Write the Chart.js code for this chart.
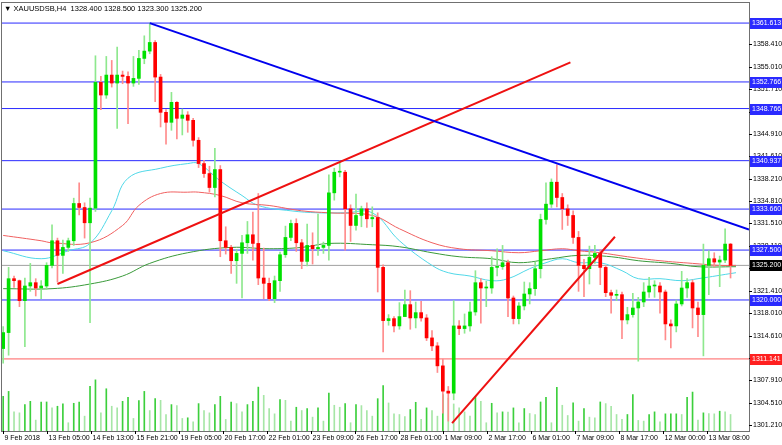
<!DOCTYPE html>
<html>
<head>
<meta charset="utf-8">
<script src="https://cdn.jsdelivr.net/npm/chart.js@4/dist/chart.umd.min.js"></script>
<style>
  html, body { margin: 0; padding: 0; background: #fff; }
  #wrap { width: 782px; height: 445px; position: relative; }
</style>
</head>
<body>
<div id="wrap"><canvas id="c" width="782" height="445"></canvas></div>
<script>
// candles (H4), open of the first bar, then closes / highs / lows
var firstOpen = 1312.7;
var closes = [1315.1,1323.2,1322.9,1319.9,1322.1,1322.6,1321.8,1322.1,1325.2,1328.9,
  1326.7,1327.9,1328.9,1334.5,1333.9,1331.6,1333.8,1352.7,1350.8,1353.8,
  1352.6,1353.8,1353.6,1352.6,1353.3,1356.3,1357.4,1358.7,1353.5,1348.2,
  1346.7,1349.7,1347.3,1347.8,1347.0,1344.0,1340.5,1339.0,1336.9,1339.6,
  1328.9,1327.9,1325.9,1327.0,1328.6,1329.8,1328.5,1323.3,1322.5,1320.2,
  1322.9,1326.8,1329.4,1331.5,1328.6,1325.8,1328.2,1327.7,1327.9,1328.2,
  1336.1,1339.2,1339.2,1333.7,1331.2,1332.7,1333.7,1332.2,1332.4,1324.9,
  1316.9,1317.2,1316.1,1317.5,1319.3,1317.3,1318.1,1317.3,1314.3,1313.1,
  1310.1,1306.3,1306.0,1316.1,1315.7,1316.1,1318.2,1322.6,1321.8,1321.8,
  1324.9,1325.0,1325.6,1320.3,1317.2,1319.1,1320.9,1321.7,1324.7,1332.1,
  1334.4,1337.7,1335.4,1333.7,1332.7,1329.4,1325.2,1324.7,1326.4,1327.0,
  1324.9,1321.1,1320.7,1320.8,1317.0,1317.8,1318.8,1319.7,1321.2,1322.1,
  1322.1,1321.2,1316.4,1316.1,1319.4,1321.8,1322.6,1318.8,1317.8,1325.2,
  1326.2,1325.7,1326.0,1328.4,1325.2];
var highs = [1316.0,1324.9,1323.6,1323.0,1323.3,1325.5,1323.2,1322.9,1325.6,1331.3,
  1329.3,1329.0,1329.3,1335.3,1337.6,1334.6,1335.3,1356.7,1353.6,1356.6,
  1356.0,1358.0,1354.4,1354.3,1356.6,1357.5,1359.7,1361.6,1359.0,1353.9,
  1348.6,1351.2,1349.8,1348.7,1348.3,1347.3,1344.4,1341.0,1340.1,1342.8,
  1340.2,1331.0,1328.2,1327.6,1329.7,1331.8,1333.2,1336.0,1327.8,1323.3,
  1323.6,1327.2,1331.1,1332.0,1332.2,1329.1,1331.4,1330.1,1332.9,1328.7,
  1338.8,1339.8,1340.9,1339.5,1334.3,1335.9,1334.1,1334.6,1334.0,1333.1,
  1325.3,1317.8,1317.5,1319.6,1321.5,1321.4,1319.7,1319.8,1317.8,1315.4,
  1313.6,1311.1,1307.0,1319.9,1316.9,1317.9,1319.7,1324.4,1323.2,1322.8,
  1326.5,1327.7,1328.2,1326.0,1320.6,1319.6,1322.7,1322.6,1325.7,1332.9,
  1337.6,1338.2,1340.3,1336.0,1334.3,1333.4,1330.3,1326.1,1328.1,1328.2,
  1327.6,1325.2,1321.5,1321.5,1321.2,1318.9,1321.0,1320.4,1322.6,1323.4,
  1322.9,1322.6,1321.5,1317.0,1320.0,1324.3,1323.2,1323.0,1319.7,1328.4,
  1327.4,1327.1,1326.6,1330.7,1328.5];
var lows = [1310.5,1311.7,1321.9,1319.0,1313.0,1321.3,1320.6,1320.2,1321.6,1324.8,
  1322.7,1324.0,1327.3,1328.2,1332.8,1329.3,1316.6,1333.3,1348.6,1350.3,
  1352.0,1345.8,1352.5,1346.5,1352.1,1352.4,1355.5,1357.0,1349.8,1346.0,
  1343.4,1345.5,1344.2,1344.8,1345.2,1343.1,1339.9,1338.4,1336.2,1335.5,
  1326.5,1326.9,1324.0,1322.5,1320.3,1327.0,1326.0,1322.3,1320.2,1319.9,
  1319.6,1321.3,1326.4,1328.9,1327.3,1324.7,1325.1,1325.4,1326.7,1327.0,
  1326.0,1335.0,1338.5,1327.5,1328.8,1330.5,1331.0,1330.9,1331.0,1321.2,
  1312.2,1316.2,1315.2,1315.6,1318.3,1315.6,1315.8,1316.8,1313.9,1312.4,
  1309.1,1303.0,1301.8,1305.0,1314.8,1315.0,1315.3,1317.7,1316.5,1319.0,
  1321.0,1323.6,1324.6,1317.5,1316.4,1316.4,1318.5,1319.4,1320.7,1323.3,
  1331.4,1333.9,1334.0,1330.6,1331.2,1328.5,1321.3,1320.5,1322.4,1325.5,
  1322.3,1320.5,1318.0,1319.9,1314.2,1316.4,1317.4,1310.8,1319.0,1320.4,
  1320.4,1318.0,1314.0,1312.8,1315.2,1319.1,1320.4,1315.8,1314.5,1311.6,
  1320.8,1325.0,1322.0,1325.6,1323.3];
var volumes = [105,120,58,55,80,90,33,88,88,70,75,82,25,84,88,45,135,155,55,128,
  75,70,90,102,38,92,120,62,98,93,50,80,77,38,40,28,83,62,55,80,
  105,35,88,83,58,80,90,133,108,68,52,95,93,30,72,62,68,42,70,30,
  115,78,72,83,25,80,77,62,45,98,138,85,52,50,44,65,87,35,70,62,
  45,110,100,82,70,58,45,105,90,25,84,55,58,57,70,25,68,53,50,88,
  102,25,132,78,47,85,30,68,42,40,88,83,75,50,35,50,110,32,30,50,
  58,28,52,52,52,50,102,118,33,55,53,52,60,58,50];

// moving averages (bar index, price)
var maFast = [[0,1327.4],[7,1326.2],[12,1327.4],[16,1328.5],[20,1333.4],[23,1338.3],[29,1339.8],
  [34,1340.5],[36,1340.5],[40,1337.9],[44,1335.7],[47,1334.2],[53,1333.4],[58,1333.1],[63,1333.1],
  [68,1333.1],[73,1328.9],[79,1325.2],[82,1324.1],[86,1323.6],[90,1322.9],[93,1323.2],[97,1324.7],
  [100,1325.6],[103,1326.2],[106,1325.6],[110,1325.6],[114,1324.4],[117,1323.2],[121,1323.2],
  [125,1322.9],[128,1323.2],[135,1324.1]];
var maMid = [[0,1329.7],[7,1328.9],[9,1328.6],[16,1328.6],[22,1331.2],[25,1334.2],[29,1336.0],
  [34,1336.2],[36,1336.2],[40,1335.7],[44,1334.6],[49,1334.2],[55,1333.4],[60,1333.1],[68,1332.7],
  [73,1330.7],[79,1328.6],[84,1327.7],[90,1327.4],[95,1327.1],[99,1327.4],[103,1327.7],[106,1327.4],
  [110,1327.1],[115,1326.5],[121,1325.9],[127,1325.5],[132,1325.2],[135,1325.2]];
var maSlow = [[0,1321.7],[9,1321.7],[16,1322.4],[22,1323.6],[27,1325.5],[34,1327.1],[42,1327.9],
  [49,1327.7],[55,1327.9],[60,1328.5],[68,1328.3],[73,1328.0],[79,1327.1],[84,1326.5],[90,1326.2],
  [95,1325.6],[101,1326.2],[106,1326.7],[112,1326.5],[117,1325.9],[123,1325.5],[128,1325.0],[135,1325.0]];

// trend lines
var trendDown = [[27,1361.6],[137.4,1330.6]];
var trendUpA = [[10,1322.4],[104.5,1355.7]];
var trendUpB = [[82.7,1301.5],[112.7,1329.5]];

// horizontal levels
var blueLevels = [1361.613,1352.766,1348.766,1340.937,1333.660,1327.500,1320.000];
var redLevel = 1311.141;
var lastPrice = 1325.200;

var yTicks = [1301.210,1304.510,1307.910,1311.310,1314.610,1318.010,1321.410,1324.810,1328.110,
  1331.510,1334.810,1338.210,1341.610,1344.910,1348.310,1351.710,1355.010,1358.410];
var xTickIdx = [0,8.1,16.2,24.3,32.4,40.5,48.6,56.7,64.8,72.9,81,89.1,97.2,105.3,113.4,121.5,129.6];
var xTickLabels = ['9 Feb 2018','13 Feb 05:00','14 Feb 13:00','15 Feb 21:00','19 Feb 05:00',
  '20 Feb 17:00','22 Feb 01:00','23 Feb 09:00','26 Feb 17:00','28 Feb 01:00','1 Mar 09:00',
  '2 Mar 17:00','6 Mar 01:00','7 Mar 09:00','8 Mar 17:00','12 Mar 00:00','13 Mar 08:00'];

var FONT = '"Liberation Sans", Arial, sans-serif';

var bodies = [], wicks = [], bodyCol = [], wickCol = [], vols = [], volCol = [];
for (var i = 0; i < closes.length; i++) {
  var o = i === 0 ? firstOpen : closes[i - 1];
  var up = closes[i] >= o;
  bodies.push({ x: i, y: [o, closes[i]] });
  wicks.push({ x: i, y: [lows[i], highs[i]] });
  bodyCol.push(up ? '#00e000' : '#ff0000');
  wickCol.push(up ? '#8ee88e' : '#ff8c8c');
}
for (var j = 0; j < volumes.length; j++) {
  vols.push({ x: j, y: volumes[j] });
  volCol.push(j > 0 && volumes[j] < volumes[j - 1] ? '#a6e6a6' : '#3ccf3c');
}

function pts(arr) { return arr.map(function (p) { return { x: p[0], y: p[1] }; }); }
function hline(v) { return [{ x: -1, y: v }, { x: 140, y: v }]; }

var datasets = [];
datasets.push({ type: 'bar', data: vols, yAxisID: 'yv', backgroundColor: volCol, barThickness: 1, order: 9 });
blueLevels.forEach(function (v) {
  datasets.push({ type: 'line', data: hline(v), borderColor: '#2a2aff', borderWidth: 1, pointRadius: 0, order: 8 });
});
datasets.push({ type: 'line', data: hline(redLevel), borderColor: '#ff6060', borderWidth: 1, pointRadius: 0, order: 8 });
datasets.push({ type: 'line', data: hline(lastPrice), borderColor: '#a0a0a0', borderWidth: 1, pointRadius: 0, order: 8 });
datasets.push({ type: 'line', data: pts(maSlow), borderColor: '#3a9a3a', borderWidth: 1, pointRadius: 0, tension: 0.4, order: 7 });
datasets.push({ type: 'line', data: pts(maMid), borderColor: '#f06060', borderWidth: 1, pointRadius: 0, tension: 0.4, order: 7 });
datasets.push({ type: 'line', data: pts(maFast), borderColor: '#50d8e8', borderWidth: 1, pointRadius: 0, tension: 0.4, order: 7 });
datasets.push({ type: 'bar', data: wicks, backgroundColor: wickCol, barThickness: 1, grouped: false, order: 6 });
datasets.push({ type: 'bar', data: bodies, backgroundColor: bodyCol, barThickness: 3, grouped: false, minBarLength: 1, order: 5 });
datasets.push({ type: 'line', data: pts(trendDown), borderColor: '#0000ee', borderWidth: 2, pointRadius: 0, order: 1 });
datasets.push({ type: 'line', data: pts(trendUpA), borderColor: '#ee1111', borderWidth: 2, pointRadius: 0, order: 1 });
datasets.push({ type: 'line', data: pts(trendUpB), borderColor: '#ee1111', borderWidth: 2, pointRadius: 0, order: 1 });

// frame, axis labels, price boxes and header
var frame = {
  id: 'frame',
  afterDraw: function (chart) {
    var ctx = chart.ctx, a = chart.chartArea, y = chart.scales.y, x = chart.scales.x;
    ctx.save();
    ctx.strokeStyle = '#707070';
    ctx.lineWidth = 1;
    ctx.strokeRect(a.left + 0.5, a.top + 0.5, a.right - a.left, a.bottom - a.top);
    ctx.font = '7px ' + FONT;
    ctx.textBaseline = 'middle';
    ctx.fillStyle = '#000';
    ctx.strokeStyle = '#000';
    yTicks.forEach(function (v) {
      var py = Math.round(y.getPixelForValue(v)) + 0.5;
      ctx.beginPath(); ctx.moveTo(a.right, py); ctx.lineTo(a.right + 3, py); ctx.stroke();
      ctx.fillText(v.toFixed(3), a.right + 4, py);
    });
    ctx.textBaseline = 'top';
    xTickIdx.forEach(function (v, k) {
      var px = Math.round(x.getPixelForValue(v)) + 0.5;
      ctx.beginPath(); ctx.moveTo(px, a.bottom); ctx.lineTo(px, a.bottom + 3); ctx.stroke();
      ctx.fillText(xTickLabels[k], px + 1, a.bottom + 4);
    });
    ctx.textBaseline = 'middle';
    function box(v, bg, fg) {
      var py = Math.round(y.getPixelForValue(v));
      ctx.fillStyle = bg;
      ctx.fillRect(a.right + 1, py - 5, 32, 11);
      ctx.fillStyle = fg;
      ctx.fillText(v.toFixed(3), a.right + 3, py + 0.5);
    }
    blueLevels.forEach(function (v) { box(v, '#2a2aff', '#ffffff'); });
    box(redLevel, '#ff2020', '#ffffff');
    box(lastPrice, '#000000', '#ffffff');
    ctx.fillStyle = '#000';
    ctx.font = '7.5px ' + FONT;
    ctx.fillText('\u25BC XAUUSDSB,H4  1328.400 1328.500 1323.300 1325.200', a.left + 3, a.top + 7);
    ctx.restore();
  }
};

new Chart(document.getElementById('c'), {
  data: { datasets: datasets },
  options: {
    responsive: false,
    animation: false,
    layout: { padding: { top: 2, left: 1, right: 0, bottom: 0 } },
    plugins: { legend: { display: false }, tooltip: { enabled: false } },
    scales: {
      x: {
        type: 'linear', min: -0.4, max: 137.4, offset: false,
        grid: { display: false },
        border: { display: false },
        ticks: { display: false },
        afterFit: function (s) { s.height = 14; }
      },
      y: {
        position: 'right', min: 1300.31, max: 1364.78,
        grid: { display: false },
        border: { display: false },
        ticks: { display: false },
        afterFit: function (s) { s.width = 33; }
      },
      yv: { display: false, min: 0, max: 1300 }
    }
  },
  plugins: [frame]
});
</script>
</body>
</html>
